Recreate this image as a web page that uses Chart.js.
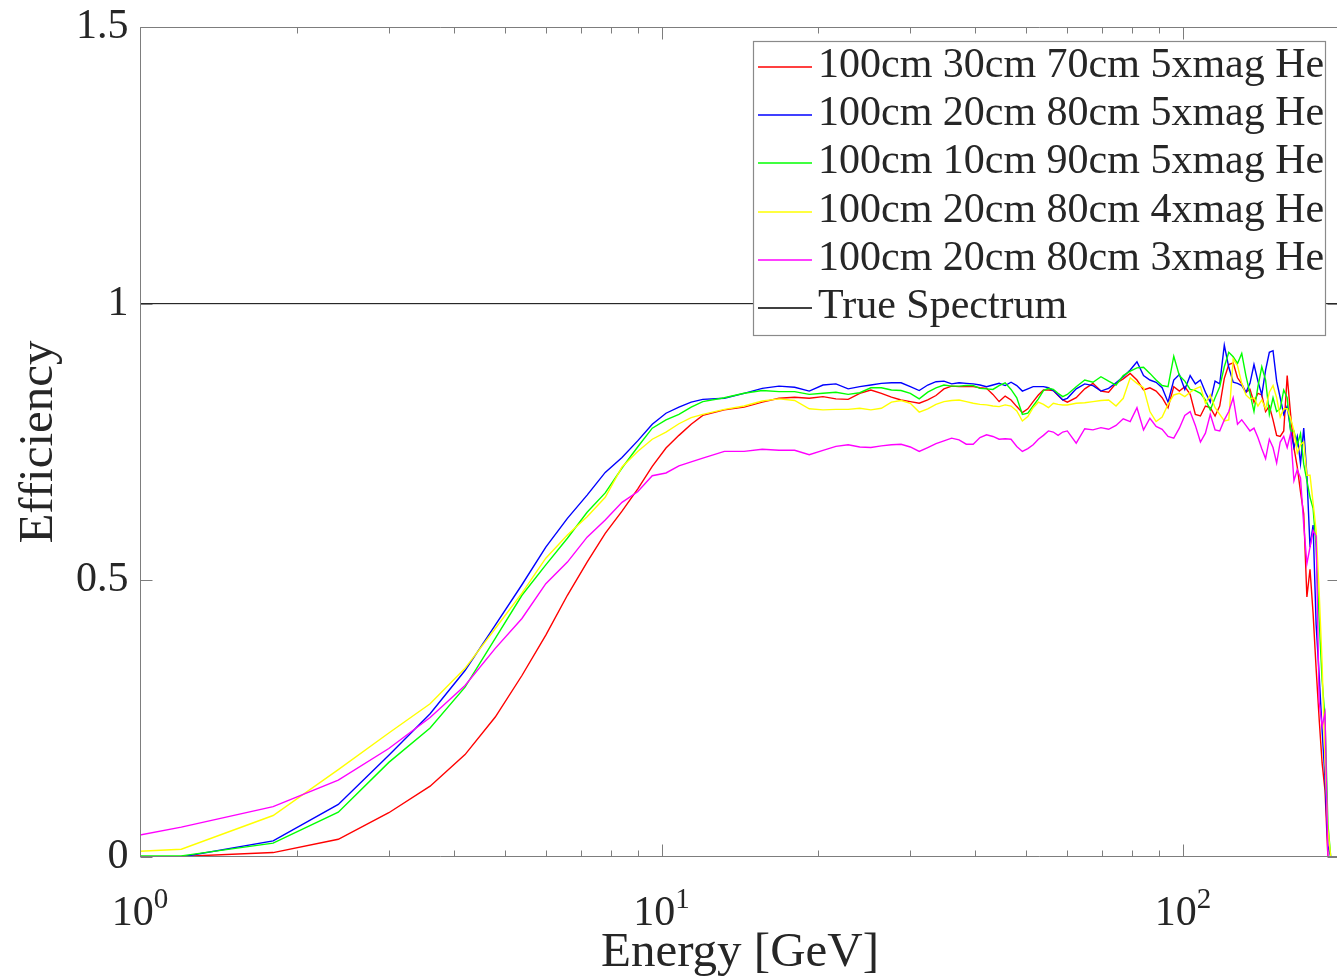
<!DOCTYPE html>
<html><head><meta charset="utf-8">
<script src="https://cdn.jsdelivr.net/npm/chart.js@4/dist/chart.umd.min.js"></script>
<style>
html,body{margin:0;padding:0;background:#fff;overflow:hidden;width:1337px;height:977px}
#wrap{position:absolute;left:0;top:0;width:1342px;height:977px}
</style>
</head><body><div id="wrap"><canvas id="c" width="1342" height="977"></canvas></div>
<script>
// ---------------- data ----------------
const energy = [0.6,1.2,1.8,2.4,3.0,3.6,4.2,4.8,5.4,6.0,6.6,7.2,7.8,8.4,9.0,9.6,10.2,10.8,11.4,12.0,
13.2,14.4,15.6,16.8,18.0,19.2,20.4,21.6,22.8,24.0,25.2,26.4,27.6,28.8,30.0,31.2,32.4,33.6,34.8,36.0,
37.2,38.4,39.6,40.8,42.0,43.2,44.4,45.6,46.8,48.0,49.2,50.4,51.6,52.8,54.0,55.2,56.4,57.6,58.8,60.0,
62.4,64.8,67.2,69.6,72.0,74.4,76.8,79.2,81.6,84.0,86.4,88.8,91.2,93.6,96.0,98.4,100.8,103.2,105.6,108.0,
110.4,112.8,115.2,117.6,120.0,122.4,124.8,127.2,129.6,132.0,134.4,136.8,139.2,141.6,144.0,146.4,148.8,151.2,153.6,156.0,
158.4,160.8,163.2,165.6,168.0,170.4,172.8,175.2,177.6,180.0,182.4,184.8,187.2,189.6,192.0,194.4,196.8,199.2];

const red30_70_5x = [0.000,0.001,0.008,0.032,0.080,0.128,0.185,0.253,0.328,0.401,
0.473,0.533,0.585,0.625,0.665,0.706,0.739,0.762,0.782,0.798,
0.808,0.813,0.822,0.829,0.831,0.829,0.832,0.828,0.827,0.838,
0.844,0.838,0.831,0.826,0.823,0.820,0.826,0.834,0.846,0.851,
0.850,0.850,0.850,0.848,0.847,0.836,0.823,0.833,0.826,0.814,
0.803,0.810,0.823,0.835,0.844,0.844,0.843,0.834,0.826,0.822,
0.830,0.846,0.856,0.842,0.840,0.856,0.864,0.874,0.862,0.844,
0.848,0.842,0.830,0.812,0.850,0.842,0.850,0.836,0.800,0.797,
0.815,0.812,0.797,0.815,0.865,0.890,0.893,0.866,0.855,0.840,
0.845,0.822,0.838,0.835,0.805,0.815,0.790,0.762,0.760,0.770,
0.870,0.800,0.740,0.705,0.660,0.620,0.470,0.520,0.440,0.340,
0.250,0.170,0.120,0.000,0.000,0.000,0.000,0.000];

const blue20_80_5x = [0.000,0.000,0.029,0.095,0.184,0.259,0.337,0.419,0.492,0.560,
0.612,0.654,0.695,0.722,0.752,0.782,0.802,0.813,0.822,0.827,
0.829,0.838,0.847,0.851,0.849,0.842,0.853,0.855,0.846,0.850,
0.853,0.856,0.857,0.857,0.850,0.843,0.853,0.859,0.860,0.855,
0.857,0.856,0.855,0.853,0.850,0.853,0.856,0.852,0.858,0.852,
0.842,0.846,0.850,0.850,0.850,0.848,0.843,0.835,0.826,0.829,
0.846,0.855,0.852,0.842,0.847,0.857,0.868,0.880,0.895,0.870,
0.862,0.858,0.848,0.822,0.862,0.872,0.845,0.870,0.855,0.862,
0.840,0.822,0.860,0.855,0.925,0.885,0.858,0.856,0.852,0.840,
0.856,0.890,0.860,0.835,0.880,0.912,0.915,0.860,0.830,0.800,
0.815,0.772,0.740,0.760,0.711,0.775,0.690,0.560,0.600,0.420,
0.330,0.230,0.140,0.020,0.000,0.000,0.000,0.000];

const green10_90_5x = [0.002,0.002,0.025,0.081,0.171,0.233,0.307,0.395,0.473,0.528,
0.576,0.623,0.658,0.703,0.741,0.775,0.790,0.800,0.813,0.823,
0.830,0.838,0.843,0.841,0.841,0.836,0.838,0.840,0.836,0.839,
0.848,0.848,0.844,0.843,0.838,0.828,0.840,0.848,0.853,0.851,
0.851,0.852,0.852,0.847,0.846,0.845,0.852,0.857,0.845,0.830,
0.800,0.802,0.815,0.828,0.843,0.847,0.845,0.838,0.832,0.836,
0.850,0.862,0.858,0.868,0.860,0.853,0.870,0.878,0.884,0.885,
0.874,0.862,0.852,0.850,0.905,0.870,0.860,0.845,0.843,0.838,
0.826,0.808,0.830,0.850,0.886,0.912,0.904,0.892,0.910,0.870,
0.838,0.805,0.850,0.886,0.862,0.800,0.830,0.805,0.810,0.844,
0.830,0.770,0.770,0.745,0.765,0.710,0.680,0.650,0.630,0.560,
0.430,0.320,0.250,0.060,0.000,0.000,0.000,0.000];

const yellow20_80_4x = [0.000,0.014,0.075,0.158,0.224,0.277,0.341,0.413,0.477,0.540,
0.582,0.615,0.650,0.705,0.733,0.755,0.768,0.783,0.794,0.800,
0.809,0.815,0.824,0.828,0.825,0.810,0.808,0.809,0.809,0.811,
0.808,0.811,0.822,0.825,0.820,0.804,0.810,0.818,0.823,0.825,
0.826,0.823,0.820,0.818,0.817,0.815,0.814,0.817,0.815,0.806,
0.788,0.796,0.812,0.822,0.818,0.812,0.820,0.818,0.817,0.817,
0.820,0.821,0.823,0.825,0.826,0.815,0.829,0.866,0.856,0.848,
0.805,0.787,0.795,0.818,0.835,0.838,0.832,0.840,0.846,0.850,
0.820,0.835,0.812,0.800,0.788,0.790,0.900,0.888,0.856,0.835,
0.828,0.830,0.815,0.826,0.810,0.840,0.852,0.830,0.795,0.810,
0.810,0.793,0.770,0.730,0.745,0.750,0.690,0.690,0.640,0.590,
0.480,0.350,0.170,0.050,0.000,0.000,0.000,0.000];

const magenta20_80_3x = [0.000,0.054,0.091,0.139,0.196,0.252,0.310,0.377,0.431,0.494,
0.533,0.578,0.609,0.641,0.660,0.689,0.694,0.707,0.714,0.721,
0.733,0.733,0.737,0.735,0.735,0.727,0.735,0.742,0.745,0.741,
0.740,0.743,0.745,0.746,0.741,0.733,0.740,0.747,0.752,0.757,
0.754,0.746,0.746,0.758,0.763,0.760,0.755,0.756,0.755,0.742,
0.733,0.738,0.745,0.755,0.762,0.770,0.768,0.762,0.768,0.770,
0.748,0.774,0.772,0.776,0.773,0.780,0.792,0.787,0.812,0.772,
0.793,0.778,0.773,0.760,0.757,0.775,0.798,0.805,0.780,0.750,
0.766,0.800,0.772,0.770,0.790,0.805,0.830,0.782,0.790,0.780,
0.770,0.775,0.758,0.738,0.720,0.755,0.740,0.712,0.750,0.760,
0.740,0.765,0.680,0.700,0.685,0.600,0.530,0.560,0.590,0.580,
0.280,0.236,0.260,0.000,0.000,0.000,0.000,0.000];

const trueSpectrumX = [1, 200];
const trueSpectrumY = [1, 1];

const seriesLabels = ['100cm 30cm 70cm 5xmag He','100cm 20cm 80cm 5xmag He','100cm 10cm 90cm 5xmag He',
  '100cm 20cm 80cm 4xmag He','100cm 20cm 80cm 3xmag He','True Spectrum'];

const yTickValues = [0, 0.5, 1, 1.5];
const yTickLabels = ['0', '0.5', '1', '1.5'];
const xMajorValues = [1, 10, 100];
const xMajorExponents = ['0', '1', '2'];
const xMinorValues = [2,3,4,5,6,7,8,9,20,30,40,50,60,70,80,90,200];
const xTitle = 'Energy [GeV]';
const yTitle = 'Efficiency';

// ---------------- styles ----------------
const seriesColors = ['#ff0000','#0000ff','#00ff00','#ffff00','#ff00ff','#000000'];
const SERIF = '"Liberation Serif", "Times New Roman", serif';
const TXT = '#262626';
const AXC = '#7d7d7d';

function pts(xs, ys){ return xs.map((v,i)=>({x:v, y:ys[i]})); }

const seriesValues = [red30_70_5x, blue20_80_5x, green10_90_5x, yellow20_80_4x, magenta20_80_3x];
const datasets = seriesValues.map((vals, i) => ({
  label: seriesLabels[i], data: pts(energy, vals),
  borderColor: seriesColors[i], borderWidth: 1.4, pointRadius: 0, tension: 0,
  fill: false, order: 10 - i
}));
datasets.push({label: seriesLabels[5], data: pts(trueSpectrumX, trueSpectrumY),
  borderColor: seriesColors[5], borderWidth: 1, pointRadius: 0, fill: false, order: 0});

const axesPlugin = {
  id: 'matlabAxes',
  afterDatasetsDraw(chart) {
    const ctx = chart.ctx, a = chart.chartArea, xs = chart.scales.x, ys = chart.scales.y;
    ctx.save();
    const L = Math.round(a.left)+0.5, R = Math.round(a.right)-0.5, T = Math.round(a.top)+0.5, B = Math.round(a.bottom)-0.5;
    ctx.strokeStyle = AXC; ctx.lineWidth = 1;
    ctx.beginPath();
    ctx.moveTo(L,T); ctx.lineTo(R,T); ctx.lineTo(R,B); ctx.lineTo(L,B); ctx.closePath();
    xMajorValues.forEach(v => { const p = Math.round(xs.getPixelForValue(v))+0.5;
      ctx.moveTo(p,B); ctx.lineTo(p,B-12); ctx.moveTo(p,T); ctx.lineTo(p,T+12); });
    xMinorValues.forEach(v => { const p = Math.round(xs.getPixelForValue(v))+0.5;
      ctx.moveTo(p,B); ctx.lineTo(p,B-6); ctx.moveTo(p,T); ctx.lineTo(p,T+6); });
    yTickValues.forEach(v => { const p = Math.round(ys.getPixelForValue(v))+0.5;
      ctx.moveTo(L,p); ctx.lineTo(L+12,p); ctx.moveTo(R,p); ctx.lineTo(R-12,p); });
    ctx.stroke();

    // tick labels
    ctx.fillStyle = TXT;
    ctx.font = '42px ' + SERIF;
    ctx.textAlign = 'right'; ctx.textBaseline = 'middle';
    yTickValues.forEach((v,i) => ctx.fillText(yTickLabels[i], L - 12, ys.getPixelForValue(v)));
    xMajorValues.forEach((v,i) => {
      const p = xs.getPixelForValue(v);
      ctx.font = '42px ' + SERIF; const w1 = ctx.measureText('10').width;
      ctx.font = '29px ' + SERIF; const w2 = ctx.measureText(xMajorExponents[i]).width;
      const s = p - (w1 + w2)/2;
      ctx.textAlign = 'left'; ctx.textBaseline = 'alphabetic';
      ctx.font = '42px ' + SERIF; ctx.fillText('10', s, 925);
      ctx.font = '29px ' + SERIF; ctx.fillText(xMajorExponents[i], s + w1, 908);
    });

    // titles
    ctx.font = '49px ' + SERIF; ctx.textAlign = 'center'; ctx.textBaseline = 'alphabetic';
    ctx.fillText(xTitle, (a.left + a.right)/2, 966);
    ctx.save(); ctx.translate(52, (a.top + a.bottom)/2); ctx.rotate(-Math.PI/2);
    ctx.fillText(yTitle, 0, 0); ctx.restore();

    // legend
    const bx = 753.5, by = 41.5, bw = 572, bh = 294;
    ctx.fillStyle = '#ffffff'; ctx.fillRect(bx, by, bw, bh);
    ctx.strokeStyle = '#8a8a8a'; ctx.lineWidth = 1.2; ctx.strokeRect(bx, by, bw, bh);
    ctx.font = '42px ' + SERIF; ctx.textAlign = 'left'; ctx.textBaseline = 'alphabetic';
    seriesLabels.forEach((label, i) => {
      const base = 77 + i * 48.2;
      const ly = Math.round(base - 10);
      ctx.strokeStyle = seriesColors[i]; ctx.lineWidth = 1.5;
      ctx.beginPath(); ctx.moveTo(758, ly); ctx.lineTo(812, ly); ctx.stroke();
      ctx.fillStyle = TXT; ctx.fillText(label, 818, base);
    });
    ctx.restore();
  }
};

new Chart(document.getElementById('c'), {
  type: 'line',
  data: { datasets },
  options: {
    responsive: false, animation: false, devicePixelRatio: 1,
    layout: { padding: { left: 140, right: 2, top: 27, bottom: 120 } },
    plugins: { legend: { display: false }, tooltip: { enabled: false } },
    scales: {
      x: { type: 'logarithmic', min: 1, max: 200, display: false },
      y: { type: 'linear', min: 0, max: 1.5, display: false }
    }
  },
  plugins: [axesPlugin]
});
</script>
</body></html>
